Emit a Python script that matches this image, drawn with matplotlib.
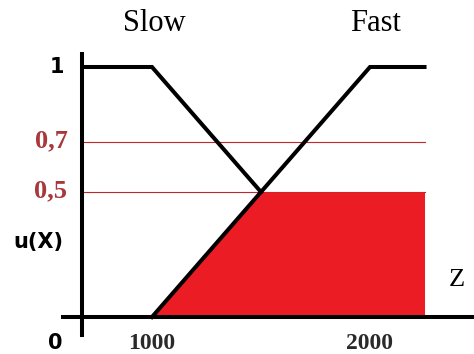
import numpy as np
import matplotlib
matplotlib.use("Agg")
import matplotlib.pyplot as plt

# membership functions (speed z -> degree u)
slow_x = [680, 1000, 1500]
slow_y = [1.0, 1.0, 0.5]
fast_x = [1000, 2000, 2250]
fast_y = [0.0, 1.0, 1.0]

cut_levels = [0.7, 0.5]
cut_labels = ["0,7", "0,5"]
active_cut = 0.5

x_ticks = [1000, 2000]
x_tick_labels = ["1000", "2000"]

fig = plt.figure(figsize=(4.74, 3.54), dpi=100)
ax = fig.add_axes([0, 0, 1, 1])
ax.set_xlim(303, 2477)
ax.set_ylim(-0.148, 1.268)
ax.axis("off")

black = "#000000"
red_line = "#c0282c"
red_fill = "#ec1c24"
lw = 2.9

# clipped "Fast" set at the active alpha level
z_cross = np.interp(active_cut, fast_y[:2], fast_x[:2])
fill_x = np.array([fast_x[0], z_cross, fast_x[-1]])
fill_y = np.minimum(np.interp(fill_x, fast_x, fast_y), active_cut)
ax.fill_between(fill_x, 0, fill_y, color=red_fill, lw=0, zorder=2)

# alpha-cut guide lines
for lvl in cut_levels:
    ax.plot([680, fast_x[-1]], [lvl, lvl], color=red_line, lw=0.8, zorder=1)

# axes
ax.plot([680, 680], [-0.072, 1.052], color=black, lw=lw, zorder=4)
ax.plot([591, 2477], [0, 0], color=black, lw=lw, zorder=4)

# curves
ax.plot(slow_x, slow_y, color=black, lw=lw, solid_joinstyle="miter", zorder=3)
ax.plot(fast_x, fast_y, color=black, lw=lw, solid_joinstyle="miter", zorder=3)

serif = "Liberation Serif"
sans = "DejaVu Sans"

ax.text(1010, 1.175, "Slow", family=serif, fontsize=22, ha="center", va="center")
ax.text(2025, 1.175, "Fast", family=serif, fontsize=22, ha="center", va="center")

ax.text(564, 1.0, "1", family=sans, fontweight="bold", fontsize=15,
        ha="center", va="center")
for lvl, lab in zip(cut_levels, cut_labels):
    ax.text(1000 + (51 - 152) / 0.218, lvl + 0.005, lab, family=serif,
            fontweight="bold", fontsize=19, color="#a8383a",
            ha="center", va="center")
ax.text(1000 + (38 - 152) / 0.218, 0.3, "u(X)", family=sans,
        fontweight="bold", fontsize=15, ha="center", va="center")
ax.text(555, -0.105, "0", family=sans, fontweight="bold", fontsize=15,
        ha="center", va="center")

for xt, lab in zip(x_ticks, x_tick_labels):
    ax.text(xt, -0.105, lab, family=serif, fontweight="bold", fontsize=17,
            color="#2a2a2a", ha="center", va="center")

ax.text(2400, 0.15, "Z", family=serif, fontsize=19, ha="center", va="center")

fig.savefig("out.png", dpi=100)
